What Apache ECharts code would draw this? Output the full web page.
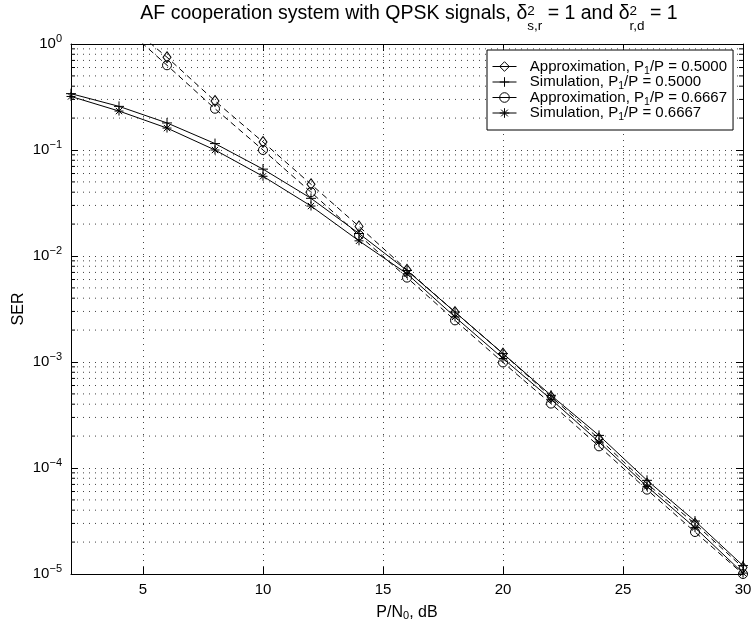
<!DOCTYPE html>
<html><head><meta charset="utf-8">
<script src="https://cdn.jsdelivr.net/npm/echarts@6/dist/echarts.min.js"></script>
<style>html,body{margin:0;padding:0;background:#fff}#c{width:752px;height:634px}</style>
</head><body><div id="c"></div>
<script>
// ---- data ----
const snrDb = [2, 4, 6, 8, 10, 12, 14, 16, 18, 20, 22, 24, 26, 28, 30];
const approxHalf = [4.0, 1.8, 0.75, 0.29, 0.119, 0.0475, 0.019, 0.0074, 0.00296, 0.0012, 0.00047, 0.000189, 7.1e-5, 2.98e-5, 1.15e-5];
const simHalf = [0.34, 0.258, 0.18, 0.115, 0.066, 0.035, 0.0163, 0.0073, 0.00296, 0.0012, 0.000485, 0.000203, 7.65e-5, 3.16e-5, 1.2e-5];
const approxTwoThirds = [3.5, 1.6, 0.63, 0.245, 0.100, 0.040, 0.0157, 0.00625, 0.00247, 0.00099, 0.000405, 0.00016, 6.25e-5, 2.49e-5, 1.0e-5];
const simTwoThirds = [0.32, 0.233, 0.161, 0.100, 0.0565, 0.0296, 0.0139, 0.0068, 0.00266, 0.00108, 0.000445, 0.000176, 6.7e-5, 2.74e-5, 1.02e-5];
const seriesNames = ['Approximation, P1/P = 0.5000', 'Simulation, P1/P = 0.5000', 'Approximation, P1/P = 0.6667', 'Simulation, P1/P = 0.6667'];
const xTickValues = [5, 10, 15, 20, 25, 30];
const yDecades = [1e-5, 1e-4, 1e-3, 1e-2, 1e-1, 1];
const minorMultipliers = [2, 3, 4, 5, 6, 7, 8, 9];

const FONT = "'Liberation Sans', Arial, Helvetica, sans-serif";
const minorY = [];
yDecades.slice(0, -1).forEach(d => minorMultipliers.forEach(m => minorY.push(d * m)));

const SYM = {
  diamond: 'path://M5,0L10,7L5,14L0,7Z',
  plus: 'path://M5,0L5,10M0,5L10,5',
  circle: 'path://M10,5A5,5,0,1,1,0,5A5,5,0,1,1,10,5Z',
  star: 'path://M5,0L5,10M0,5L10,5M1.5,1.5L8.5,8.5M8.5,1.5L1.5,8.5'
};

function mk(name, vals, symbol, size, dashed) {
  return {
    name, type: 'line', xAxisIndex: 0, yAxisIndex: 0,
    data: snrDb.map((x, i) => [x, vals[i]]),
    symbol, symbolSize: size, showSymbol: true, clip: true, z: 5,
    lineStyle: {color: '#000', width: 1, type: dashed ? [6, 4] : 'solid'},
    itemStyle: {color: 'rgba(0,0,0,0)', borderColor: '#000', borderWidth: 1},
    emphasis: {disabled: true}
  };
}

const chart = echarts.init(document.getElementById('c'), null, {renderer: 'canvas'});
const axisBlack = {color: '#000', width: 1};
chart.setOption({
  animation: false,
  backgroundColor: '#fff',
  grid: {left: 71, right: 9, top: 44, bottom: 60, containLabel: false, outerBoundsMode: 'none'},
  graphic: [{
    type: 'text', x: 409, y: -5, silent: true,
    style: {
      text: '{m|AF cooperation system with QPSK signals, δ}{p|2}{b|s,r}{m| = 1 and δ}{p|2}{b|r,d}{m| = 1}',
      fill: '#000', fontFamily: FONT, fontSize: 19.5, align: 'center', verticalAlign: 'top',
      rich: {
        m: {fontSize: 19.5, fontFamily: FONT, lineHeight: 38, verticalAlign: 'middle', align: 'left'},
        p: {fontSize: 13.5, fontFamily: FONT, lineHeight: 14, verticalAlign: 'middle', width: 0, align: 'left', padding: [0, 0, 5, 0]},
        b: {fontSize: 13.5, fontFamily: FONT, lineHeight: 14, verticalAlign: 'bottom', align: 'left'}
      }
    }
  }],
  legend: {
    data: seriesNames, orient: 'vertical', left: 487, top: 50,
    backgroundColor: '#fff', borderColor: '#000', borderWidth: 1,
    padding: [9, 6, 7, 5], itemWidth: 24, itemHeight: 12, itemGap: -2,
    lineStyle: {type: 'solid', width: 1, color: '#000'},
    itemStyle: {borderWidth: 1, borderColor: '#000', color: 'rgba(0,0,0,0)'},
    formatter: n => {
      const i = n.indexOf('P1');
      return '{m|  ' + n.slice(0, i) + 'P}{s|1}{m|' + n.slice(i + 2) + '}';
    },
    textStyle: {
      color: '#000', fontFamily: FONT, fontSize: 15, width: 196, overflow: 'none',
      rich: {
        m: {fontSize: 15, fontFamily: FONT, lineHeight: 20, color: '#000'},
        s: {fontSize: 10.5, fontFamily: FONT, lineHeight: 10, verticalAlign: 'bottom', color: '#000'}
      }
    }
  },
  xAxis: [{
    type: 'value', min: 2, max: 30, position: 'bottom',
    axisLine: {show: true, onZero: false, lineStyle: axisBlack},
    axisTick: {show: true, inside: true, length: 7, customValues: xTickValues, lineStyle: axisBlack},
    axisLabel: {customValues: xTickValues, color: '#000', fontSize: 15, fontFamily: FONT, margin: 8},
    splitLine: {show: true, lineStyle: {color: '#444', width: 1, type: [1, 5]}},
    name: 'P/N{s|0}, dB', nameLocation: 'middle', nameGap: 31, nameMoveOverlap: false,
    nameTextStyle: {
      color: '#000', fontSize: 16, fontFamily: FONT, verticalAlign: 'top',
      rich: {
        m: {fontSize: 16, fontFamily: FONT, lineHeight: 20},
        s: {fontSize: 11, fontFamily: FONT, lineHeight: 10, verticalAlign: 'bottom'}
      }
    }
  }, {
    type: 'value', min: 2, max: 30, position: 'top',
    axisLine: {show: true, onZero: false, lineStyle: axisBlack},
    axisTick: {show: true, inside: true, length: 7, customValues: xTickValues, lineStyle: axisBlack},
    axisLabel: {show: false}, splitLine: {show: false}
  }],
  yAxis: [{
    type: 'log', logBase: 10, min: 1e-5, max: 1, position: 'left',
    axisLine: {show: true, onZero: false, lineStyle: axisBlack},
    axisTick: {show: true, inside: true, length: 7, lineStyle: axisBlack},
    axisLabel: {
      color: '#000', fontFamily: FONT, margin: 9,
      formatter: v => {
        const e = Math.round(Math.log10(v));
        return '{b|10}{s|' + (e < 0 ? '\u2212' + (-e) : e) + '}';
      },
      rich: {
        b: {fontSize: 15, fontFamily: FONT, lineHeight: 22, color: '#000'},
        s: {fontSize: 11, fontFamily: FONT, lineHeight: 12, verticalAlign: 'top', color: '#000'}
      }
    },
    splitLine: {show: true, lineStyle: {color: '#444', width: 1, type: [1, 5]}},
    name: 'SER', nameLocation: 'middle', nameGap: 44, nameMoveOverlap: false,
    nameTextStyle: {color: '#000', fontSize: 16, fontFamily: FONT}
  }, {
    type: 'log', logBase: 10, min: 1e-5, max: 1, position: 'right',
    axisLine: {show: true, onZero: false, lineStyle: axisBlack},
    axisTick: {show: true, inside: true, length: 7, lineStyle: axisBlack},
    axisLabel: {show: false}, splitLine: {show: false}
  }],
  series: [
    {
      type: 'custom', xAxisIndex: 0, yAxisIndex: 0, silent: true, z: 1, clip: false,
      data: minorY.map(v => [snrDb[0], v]),
      renderItem: (params, api) => {
        const cs = params.coordSys;
        const y = api.coord([api.value(0), api.value(1)])[1];
        return {type: 'group', children: [
          {type: 'line', shape: {x1: cs.x, y1: y, x2: cs.x + cs.width, y2: y}, style: {stroke: '#444', lineWidth: 1, lineDash: [1, 5]}},
          {type: 'line', shape: {x1: cs.x, y1: y, x2: cs.x + 4, y2: y}, style: {stroke: '#000', lineWidth: 1}},
          {type: 'line', shape: {x1: cs.x + cs.width - 4, y1: y, x2: cs.x + cs.width, y2: y}, style: {stroke: '#000', lineWidth: 1}}
        ]};
      }
    },
    mk(seriesNames[0], approxHalf, SYM.diamond, [8, 11], true),
    mk(seriesNames[1], simHalf, SYM.plus, 10, false),
    mk(seriesNames[2], approxTwoThirds, SYM.circle, 9, true),
    mk(seriesNames[3], simTwoThirds, SYM.star, 9, false)
  ]
});
</script></body></html>
